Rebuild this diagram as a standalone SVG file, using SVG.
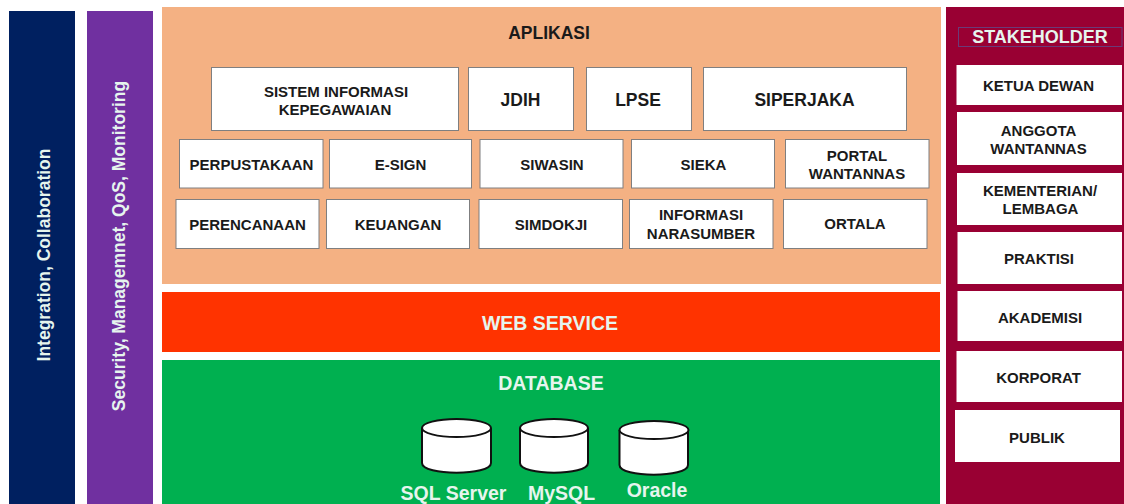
<svg xmlns="http://www.w3.org/2000/svg" width="1124" height="504" viewBox="0 0 1124 504">
<style>
text{font-family:"Liberation Sans",Arial,sans-serif;font-weight:bold;text-anchor:middle;fill:#1a1a1a;font-size:15px}
.app rect{fill:#fff;stroke:#7f7f80;stroke-width:1}
.sh rect{fill:#fff}
.w{fill:#e6f5ee}
.big{font-size:17.500px}
.lg{font-size:19.500px}
.cyl path,.cyl ellipse{fill:#fff;stroke:#111;stroke-width:2}
</style>
<rect width="1124" height="504" fill="#fff"/>
<g id="integration"><rect x="9" y="11" width="66" height="493" fill="#002060"/><text class="w big" transform="translate(49.500,255) rotate(-90)">Integration, Collaboration</text></g>
<g id="security"><rect x="87" y="11" width="66" height="493" fill="#7030a0"/><text class="w big" transform="translate(125,246) rotate(-90)">Security, Managemnet, QoS, Monitoring</text></g>
<g id="aplikasi"><rect x="162" y="7" width="779" height="277" fill="#f4b183"/><text class="big" x="549" y="39">APLIKASI</text></g>
<g class="app">
<g id="simpeg"><rect x="211.500" y="67.500" width="247" height="63"/><text x="336" y="96.500">SISTEM INFORMASI</text><text x="335" y="115">KEPEGAWAIAN</text></g>
<g id="jdih"><rect x="468.500" y="67.500" width="105" height="63"/><text class="big" x="520.500" y="106">JDIH</text></g>
<g id="lpse"><rect x="586.500" y="67.500" width="105" height="63"/><text class="big" x="638" y="106">LPSE</text></g>
<g id="siperjaka"><rect x="703.500" y="67.500" width="203" height="63"/><text class="big" x="804.500" y="106">SIPERJAKA</text></g>
<g id="perpustakaan"><rect x="179.500" y="139.500" width="143.500" height="48.500"/><text x="251.500" y="170">PERPUSTAKAAN</text></g>
<g id="esign"><rect x="329.500" y="139.500" width="142" height="48.500"/><text x="400.500" y="170">E-SIGN</text></g>
<g id="siwasin"><rect x="480" y="139.500" width="143" height="48.500"/><text x="552" y="170">SIWASIN</text></g>
<g id="sieka"><rect x="631.500" y="139.500" width="143" height="48.500"/><text x="703.500" y="170">SIEKA</text></g>
<g id="portal"><rect x="785.500" y="139.500" width="143.500" height="48.500"/><text x="857" y="161">PORTAL</text><text x="857" y="178.500">WANTANNAS</text></g>
<g id="perencanaan"><rect x="176" y="199.500" width="143" height="49"/><text x="247.500" y="230">PERENCANAAN</text></g>
<g id="keuangan"><rect x="326.500" y="199.500" width="143" height="49"/><text x="398" y="230">KEUANGAN</text></g>
<g id="simdokji"><rect x="479" y="199.500" width="143.500" height="49"/><text x="551" y="230">SIMDOKJI</text></g>
<g id="narasumber"><rect x="629.500" y="199.500" width="143.500" height="49"/><text x="701" y="220">INFORMASI</text><text x="701" y="238.500">NARASUMBER</text></g>
<g id="ortala"><rect x="783.500" y="199.500" width="143.500" height="49"/><text x="855" y="229">ORTALA</text></g>
</g>
<g id="webservice"><rect x="162" y="292" width="778" height="60" fill="#ff3300"/><text class="w lg" x="550" y="330">WEB SERVICE</text></g>
<g id="database"><rect x="162" y="360" width="778" height="144" fill="#00b050"/><text class="w lg" x="551" y="390">DATABASE</text></g>
<g class="cyl">
<g id="sqlserver"><path d="M422 428V463C422 476 491 476 491 463V428"/><ellipse cx="456.500" cy="428" rx="34.500" ry="9"/><text class="w lg" x="453.500" y="500">SQL Server</text></g>
<g id="mysql"><path d="M520 428V463C520 476 588 476 588 463V428"/><ellipse cx="554" cy="428" rx="34" ry="9"/><text class="w lg" x="561.500" y="500">MySQL</text></g>
<g id="oracle"><path d="M619.500 430V465C619.500 478 688 478 688 465V430"/><ellipse cx="654" cy="430" rx="34.500" ry="9"/><text class="w lg" x="657" y="497">Oracle</text></g>
</g>
<g id="stakeholder"><rect x="946" y="7" width="178" height="497" fill="#990033"/><rect x="958.500" y="27.500" width="163.500" height="19" fill="none" stroke="#6b3a78"/><text class="w" style="font-size:18px" x="1040" y="43">STAKEHOLDER</text></g>
<g class="sh">
<g id="ketua"><rect x="956.500" y="65" width="165.500" height="40"/><text x="1038.500" y="91">KETUA DEWAN</text></g>
<g id="anggota"><rect x="957" y="112" width="165" height="53"/><text x="1038.500" y="136">ANGGOTA</text><text x="1038.500" y="154">WANTANNAS</text></g>
<g id="kementerian"><rect x="957" y="173" width="165" height="52"/><text x="1040" y="196">KEMENTERIAN/</text><text x="1040.500" y="214">LEMBAGA</text></g>
<g id="praktisi"><rect x="957.500" y="232" width="164.500" height="52"/><text x="1039" y="264">PRAKTISI</text></g>
<g id="akademisi"><rect x="957.500" y="291" width="164.500" height="50"/><text x="1040" y="322.500">AKADEMISI</text></g>
<g id="korporat"><rect x="956.500" y="351" width="165.500" height="51"/><text x="1038.500" y="382.500">KORPORAT</text></g>
<g id="publik"><rect x="955" y="410" width="165" height="52"/><text x="1037" y="442.500">PUBLIK</text></g>
</g>
</svg>
